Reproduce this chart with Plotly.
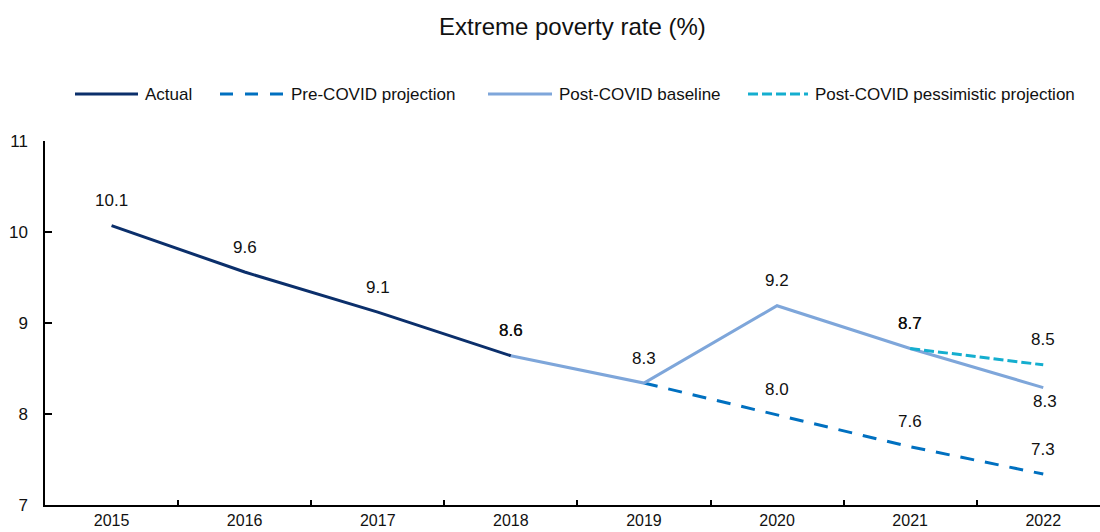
import plotly.graph_objects as go

# Extreme poverty rate (%) by year
years = [2015, 2016, 2017, 2018, 2019, 2020, 2021, 2022]

actual_years = [2015, 2016, 2017, 2018]
actual = [10.07, 9.56, 9.12, 8.64]

pre_years = [2019, 2020, 2021, 2022]
pre_covid = [8.34, 7.99, 7.64, 7.34]

base_years = [2018, 2019, 2020, 2021, 2022]
post_baseline = [8.64, 8.34, 9.19, 8.72, 8.29]

pess_years = [2021, 2022]
post_pessimistic = [8.72, 8.54]

y_ticks = [7, 8, 9, 10, 11]

FONT = "Liberation Sans Narrow, Arial Narrow, Liberation Sans, Arial, sans-serif"
NAVY = "#0B2F6B"
MID_BLUE = "#0070C0"
LIGHT_BLUE = "#7EA6DA"
CYAN = "#14AECF"

W, H = 1100, 532
ML, MR, MT, MB = 45, 0, 141, 27
PX_PER_YEAR = 133.1
X_LEFT = 2014.5
X_RIGHT = X_LEFT + (W - ML - MR) / PX_PER_YEAR

series = [
    ("Pre-COVID projection", pre_years, pre_covid, MID_BLUE, "14px,11px"),
    ("Post-COVID baseline", base_years, post_baseline, LIGHT_BLUE, "solid"),
    ("Post-COVID pessimistic projection", pess_years, post_pessimistic, CYAN, "10px,4px"),
    ("Actual", actual_years, actual, NAVY, "solid"),
]

fig = go.Figure()
for name, xs, ys, color, dash in series:
    fig.add_trace(go.Scatter(
        x=xs, y=ys, mode="lines", name=name,
        line=dict(color=color, width=3, dash=dash),
        showlegend=False, hoverinfo="x+y+name",
    ))

# Value labels: (years, values, which points get a label, vertical shift, horizontal shift)
label_sets = [
    (actual_years, actual, [2015, 2016, 2017, 2018], 25, 0),
    (base_years, post_baseline, [2018, 2019, 2020, 2021], 25, 0),
    (base_years, post_baseline, [2022], -14, 2),
    (pre_years, pre_covid, [2020, 2021, 2022], 25, 0),
    (pess_years, post_pessimistic, [2021, 2022], 25, 0),
]
for xs, ys, keep, dy, dx in label_sets:
    for x, y in zip(xs, ys):
        if x in keep:
            fig.add_annotation(
                x=x, y=y, text=f"{y:.1f}", showarrow=False,
                xanchor="center", yanchor="middle", yshift=dy, xshift=dx,
                font=dict(family=FONT, size=17, color="#111111"),
            )

# Title
fig.add_annotation(
    xref="paper", yref="paper",
    x=(572 - ML) / (W - ML - MR), y=1 + (MT - 26) / (H - MT - MB),
    text="Extreme poverty rate (%)", showarrow=False,
    xanchor="center", yanchor="middle",
    font=dict(family=FONT, size=24, color="#111111"),
)

# Legend row drawn as line samples with text
def px_x(p):
    return (p - ML) / (W - ML - MR)

def px_y(p):
    return 1 - (p - MT) / (H - MT - MB)

legend_items = [
    ("Actual", NAVY, "solid", 75, 138, 143),
    ("Pre-COVID projection", MID_BLUE, "13px,12px", 220, 285, 289),
    ("Post-COVID baseline", LIGHT_BLUE, "solid", 488, 552, 557),
    ("Post-COVID pessimistic projection", CYAN, "10px,4px", 748, 808, 813),
]
LEG_Y = 94
for text, color, dash, x0, x1, tx in legend_items:
    fig.add_shape(
        type="line", xref="paper", yref="paper",
        x0=px_x(x0), x1=px_x(x1), y0=px_y(LEG_Y), y1=px_y(LEG_Y),
        line=dict(color=color, width=3, dash=dash),
    )
    fig.add_annotation(
        xref="paper", yref="paper", x=px_x(tx), y=px_y(LEG_Y),
        text=text, showarrow=False, xanchor="left", yanchor="middle",
        font=dict(family=FONT, size=17, color="#111111"),
    )

fig.update_layout(
    width=W, height=H,
    margin=dict(l=ML, r=MR, t=MT, b=MB, pad=0, autoexpand=False),
    paper_bgcolor="white", plot_bgcolor="white",
    showlegend=False,
    font=dict(family=FONT, size=17, color="#111111"),
    xaxis=dict(
        range=[X_LEFT, X_RIGHT],
        tickvals=years, ticktext=[str(y) for y in years],
        ticks="", showgrid=False, zeroline=False,
        showline=True, linecolor="black", linewidth=1.5,
        automargin=False,
        tickfont=dict(family=FONT, size=16, color="#111111"),
        minor=dict(tickvals=[y + 0.5 for y in years[:-1]], ticks="inside",
                   ticklen=5, tickwidth=1.5, tickcolor="black", showgrid=False),
        fixedrange=True,
    ),
    yaxis=dict(
        range=[7, 11], tickvals=y_ticks,
        ticks="inside", ticklen=7, tickwidth=1.5, tickcolor="black",
        showgrid=False, zeroline=False,
        showline=True, linecolor="black", linewidth=1.5,
        ticklabelstandoff=12, automargin=False,
        tickfont=dict(family=FONT, size=17, color="#111111"),
        fixedrange=True,
    ),
)

fig.write_html("out.html")
